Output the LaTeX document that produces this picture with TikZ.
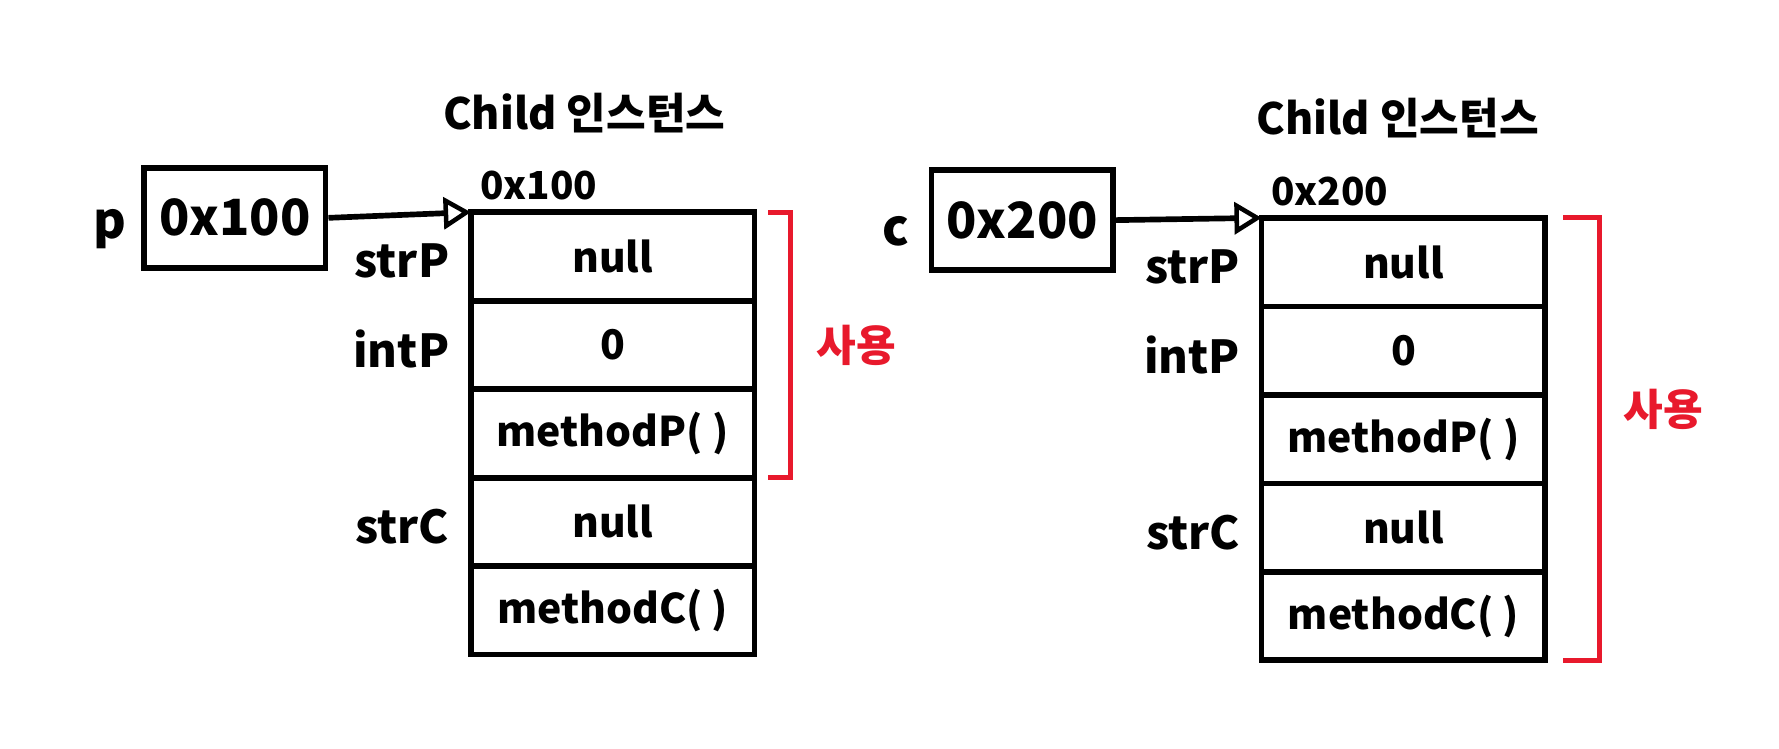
\documentclass[tikz,border=0pt]{standalone}
\usepackage{fontspec}
\setmainfont{Noto Sans CJK KR}
\usetikzlibrary{positioning,arrows.meta}
\definecolor{memred}{HTML}{E8192C}
\tikzset{
  cell/.style={draw, line width=2.5pt, outer sep=0pt, inner sep=0pt,
    minimum width=125pt, minimum height=39pt, font=\bfseries\fontsize{18}{22}\selectfont},
  ptrbox/.style={draw, line width=2.5pt, minimum width=80pt, minimum height=44pt,
    font=\bfseries\fontsize{22}{26}\selectfont},
  varname/.style={font=\bfseries\fontsize{22}{26}\selectfont, yshift=-5pt},
  fieldname/.style={font=\bfseries\fontsize{20}{24}\selectfont, yshift=-2pt},
  addr/.style={font=\bfseries\fontsize{17}{20}\selectfont, anchor=south west, inner sep=2pt},
  heading/.style={font=\bfseries\fontsize{19}{24}\selectfont},
  ptr/.style={line width=2.5pt, -{Triangle[open, length=12pt, width=14pt, line width=2pt]}},
  used/.style={draw=memred, line width=2.2pt},
  usedlabel/.style={text=memred, font=\bfseries\fontsize{19}{22}\selectfont}
}
\begin{document}
\begin{tikzpicture}[x=0.5pt, y=-0.5pt]
\useasboundingbox (0,0) rectangle (1568,660);

% Parent p = new Child()
\node[ptrbox] (pbox) at (207,192) {0x100};
\node[varname, left=3pt of pbox] (pname) {p};

\node[cell] (pr1) at (540,226) {null};
\node[cell, below=0pt of pr1] (pr2) {0};
\node[cell, below=0pt of pr2] (pr3) {methodP( )};
\node[cell, below=0pt of pr3] (pr4) {null};
\node[cell, below=0pt of pr4] (pr5) {methodC( )};

\node[fieldname, left=6pt of pr1] (pf1) {strP};
\node[fieldname, left=6pt of pr2] (pf2) {intP};
\node[fieldname, left=6pt of pr4] (pf4) {strC};

\node[addr] (paddr) at ([xshift=2pt, yshift=3pt]pr1.north west) {0x100};
\node[heading] (ptitle) at (515,100) {Child 인스턴스};

\draw[ptr] (pbox.east) -- (pr1.north west);

% red bracket (P part)
\coordinate[xshift=6pt] (pu1) at (pr1.north east);
\coordinate[xshift=16pt] (pu2) at (pr1.north east);
\draw[used] (pu1) -- (pu2) -- (pu2 |- pr3.south) -- (pu1 |- pr3.south);
\path (pu2) -- (pu2 |- pr3.south) node[midway, usedlabel, right=8pt] (puse) {사용};

% Child c = new Child()
\node[ptrbox] (cbox) at (901,194) {0x200};
\node[varname, left=5pt of cbox] (cname) {c};

\node[cell] (cr1) at (1237,231) {null};
\node[cell, below=0pt of cr1] (cr2) {0};
\node[cell, below=0pt of cr2] (cr3) {methodP( )};
\node[cell, below=0pt of cr3] (cr4) {null};
\node[cell, below=0pt of cr4] (cr5) {methodC( )};

\node[fieldname, left=6pt of cr1] (cf1) {strP};
\node[fieldname, left=6pt of cr2] (cf2) {intP};
\node[fieldname, left=6pt of cr4] (cf4) {strC};

\node[addr] (caddr) at ([xshift=2pt, yshift=3pt]cr1.north west) {0x200};
\node[heading] (ctitle) at (1232,104) {Child 인스턴스};

\draw[ptr] (cbox.east) -- (cr1.north west);

% red bracket (all)
\coordinate[xshift=8pt] (cu1) at (cr1.north east);
\coordinate[xshift=24pt] (cu2) at (cr1.north east);
\draw[used] (cu1) -- (cu2) -- (cu2 |- cr5.south) -- (cu1 |- cr5.south);
\path (cu2) -- (cu2 |- cr5.south) node[midway, usedlabel, right=7pt, yshift=13pt] (cuse) {사용};

\end{tikzpicture}
\end{document}
